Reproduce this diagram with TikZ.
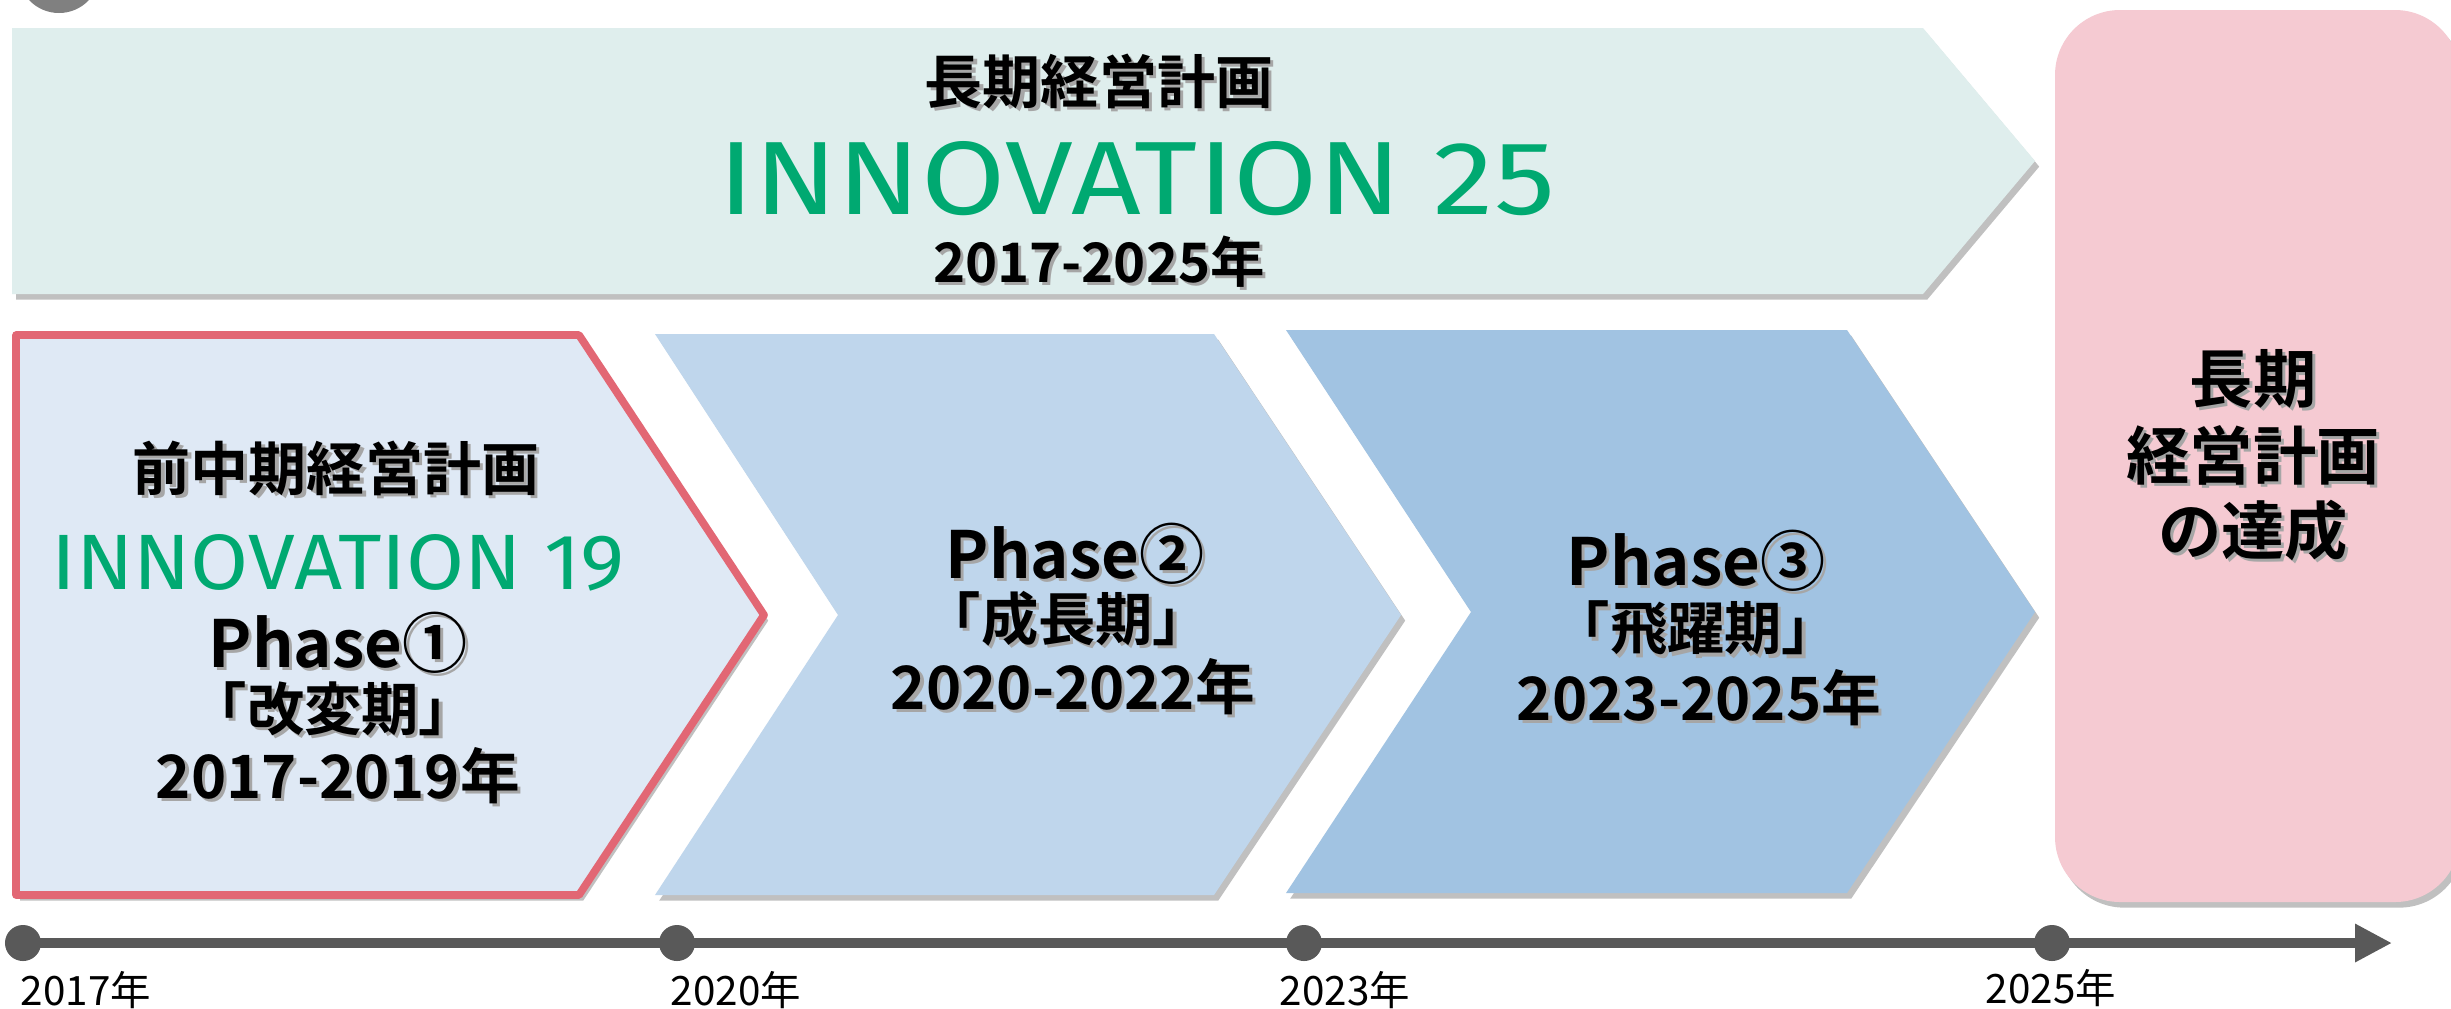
\documentclass[tikz,border=0pt]{standalone}
\usepackage{fontspec}
\setmainfont{Noto Sans CJK JP}
\newfontfamily\jpbold{Noto Sans CJK JP Bold}
\newfontfamily\jpreg{Noto Sans CJK JP}
\newfontfamily\innofont{Fira Sans}
\usetikzlibrary{arrows.meta, shadows}

\definecolor{planfill}{RGB}{223,238,237}
\definecolor{phaseonefill}{RGB}{223,233,245}
\definecolor{phaseoneline}{RGB}{226,103,116}
\definecolor{phasetwofill}{RGB}{191,214,236}
\definecolor{phasethreefill}{RGB}{161,195,226}
\definecolor{goalfill}{RGB}{245,202,210}
\definecolor{innogreen}{RGB}{0,169,113}
\definecolor{axisgray}{RGB}{89,89,89}

% black text with a soft grey copy behind it
\newcommand{\shadowed}[1]{\rlap{\kern0.9pt\raisebox{-0.9pt}{\textcolor{black!35}{#1}}}#1}

\tikzset{shape shadow/.style = {drop shadow={shadow xshift=1.2pt, shadow yshift=-1.6pt, opacity=0.35, fill=black!70}}}
\tikzset{head/.style = {inner sep=0pt, font=\jpbold\fontsize{16.5pt}{18pt}\selectfont}}
\tikzset{phasename/.style = {inner sep=0pt, font=\jpbold\fontsize{18.5pt}{20pt}\selectfont}}
\tikzset{period/.style = {inner sep=0pt, font=\jpbold\fontsize{16.3pt}{18pt}\selectfont}}
\tikzset{years/.style = {inner sep=0pt, font=\jpbold\fontsize{17pt}{19pt}\selectfont}}
\tikzset{goal/.style = {inner sep=0pt, font=\jpbold\fontsize{18pt}{20pt}\selectfont}}
\tikzset{tick/.style = {shape=circle, fill=axisgray, inner sep=0pt, minimum size=0.36cm}}
\tikzset{ticklabel/.style = {inner sep=0pt, font=\jpreg\fontsize{11.5pt}{13pt}\selectfont}}
\tikzset{inno/.style = {inner sep=0pt, text=innogreen, font=\innofont}}

\begin{document}
\begin{tikzpicture}[x=0.01cm, y=-0.01cm]
        \useasboundingbox (0,0) rectangle (2451,1008);
        \fill[white] (0,0) rectangle (2451,1008);
        \fill[black!50] (59,-28) circle (41);

        % long-term plan band
        \fill[planfill, shape shadow] (12,28) -- (1923,28) -- (2035,161) -- (1923,294) -- (12,294) -- cycle;
        \node[head] (plantitle) at (1099,83) {\shadowed{長期経営計画}};
        \node[inno] (planname) at (1137,179) {\resizebox{8.36cm}{0.73cm}{INNOVATION 25}};
        \node[head, font=\jpbold\fontsize{15.5pt}{17pt}\selectfont] (planyears) at (1099,263) {\shadowed{2017-2025年}};

        % phase 1
        \filldraw[fill=phaseonefill, draw=phaseoneline, line width=2.2pt, line join=round, shape shadow]
            (16,335) -- (579,335) -- (764,615) -- (579,895) -- (16,895) -- cycle;
        \node[head] (ponetitle) at (336,470) {\shadowed{前中期経営計画}};
        \node[inno] (ponename) at (338,563) {\resizebox{5.73cm}{0.55cm}{INNOVATION 19}};
        \node[phasename] (ponephase) at (338,644) {\shadowed{Phase①}};
        \node[period] (poneperiod) at (333,710) {\shadowed{「改変期」}};
        \node[years] (poneyears) at (338,777) {\shadowed{2017-2019年}};

        % phase 2
        \fill[phasetwofill, shape shadow] (655,334) -- (1214,334) -- (1401,615) -- (1214,895) -- (655,895) -- (838,615) -- cycle;
        \node[phasename] (ptwophase) at (1075,555) {\shadowed{Phase②}};
        \node[period] (ptwoperiod) at (1067,620) {\shadowed{「成長期」}};
        \node[years] (ptwoyears) at (1073,688) {\shadowed{2020-2022年}};

        % phase 3
        \fill[phasethreefill, shape shadow] (1286,330) -- (1847,330) -- (2035,612) -- (1847,893) -- (1286,893) -- (1471,612) -- cycle;
        \node[phasename] (pthreephase) at (1696,562) {\shadowed{Phase③}};
        \node[period] (pthreeperiod) at (1696,630) {\shadowed{「飛躍期」}};
        \node[years] (pthreeyears) at (1699,699) {\shadowed{2023-2025年}};

        % goal box
        \fill[goalfill, rounded corners=0.65cm, shape shadow] (2055,10) rectangle (2460,902);
        \node[goal] (goalone) at (2253,380) {\shadowed{長期}};
        \node[goal] (goaltwo) at (2253,457) {\shadowed{経営計画}};
        \node[goal] (goalthree) at (2253,532) {\shadowed{の達成}};

        % time axis
        \coordinate (axisend) at (2392,943);
        \node[tick] (t2017) at (23,943) {};
        \node[tick] (t2020) at (677,943) {};
        \node[tick] (t2023) at (1304,943) {};
        \node[tick] (t2025) at (2052,943) {};
        \draw[axisgray, line width=2.7pt, -{Triangle[length=0.37cm, width=0.36cm]}] (t2017.center) -- (axisend);
        \node[ticklabel] (l2017) at (86,990) {2017年};
        \node[ticklabel] (l2020) at (736,990) {2020年};
        \node[ticklabel] (l2023) at (1345,990) {2023年};
        \node[ticklabel] (l2025) at (2051,988) {2025年};
    \end{tikzpicture}
\end{document}
